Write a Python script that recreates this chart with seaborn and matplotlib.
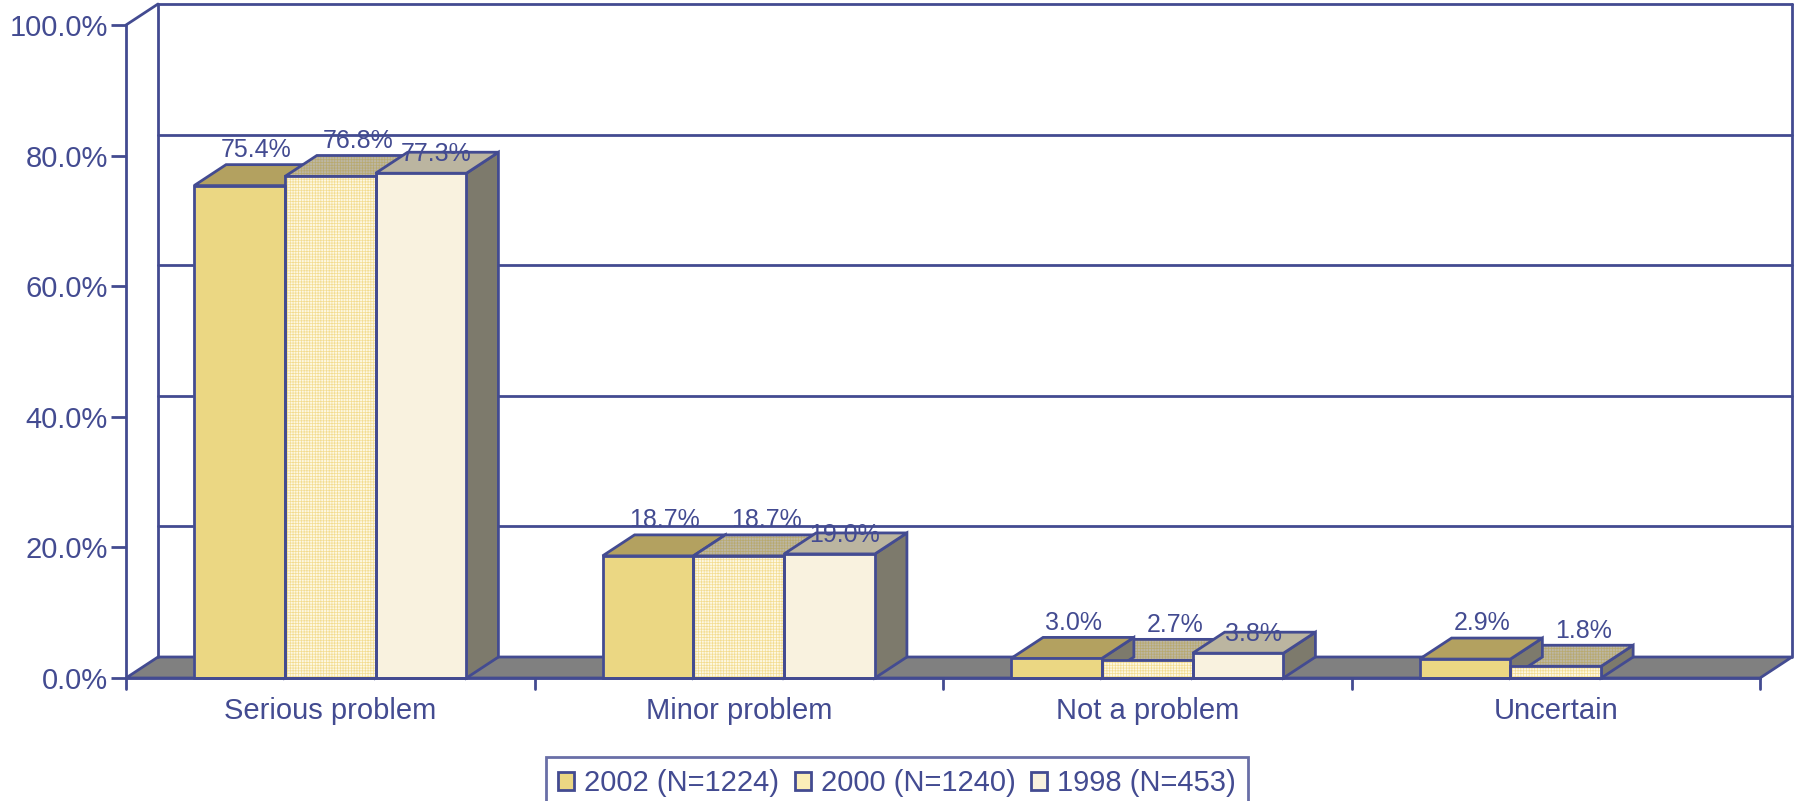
import matplotlib
matplotlib.use('Agg')
import matplotlib.pyplot as plt
from matplotlib.patches import Polygon, Rectangle, Patch
import pandas as pd
import seaborn as sns

# values
categories = ['Serious problem', 'Minor problem', 'Not a problem', 'Uncertain']
years = ['2002 (N=1224)', '2000 (N=1240)', '1998 (N=453)']
vals_2002 = [75.4, 18.7, 3.0, 2.9]
vals_2000 = [76.8, 18.7, 2.7, 1.8]
vals_1998 = [77.3, 19.0, 3.8, None]
y_ticks = [0, 20, 40, 60, 80, 100]

NAVY = '#434b91'
FLOOR = '#808080'
SIDE = '#7d7a6c'
LW = 2
front = ['#ebd783', '#fdf8e3', '#f9f2df']
top = ['#b3a160', '#bdb7a4', '#bbb5a0']
DX = 32 / 408.5   # depth offset, in category units
DY = 21 / 653 * 100  # depth offset, in percent
# where each series puts its value label, relative to the bar centre
label_dx = [17 / 408.5, 28 / 408.5, 15 / 408.5]
label_dy = [DY + 0.4, DY + 0.4, DY - 2.1]

sns.set_style('white')
plt.rcParams['font.family'] = ['Liberation Sans', 'DejaVu Sans']
plt.rcParams['hatch.linewidth'] = 0.5

df = pd.DataFrame({
    'category': categories * 3,
    'year': [y for y in years for _ in categories],
    'value': vals_2002 + vals_2000 + vals_1998,
})

fig = plt.figure(figsize=(17.97, 8.01), dpi=100)
ax = fig.add_axes([126 / 1797, (801 - 678) / 801, 1634 / 1797, 653 / 801])

sns.barplot(data=df, x='category', y='value', hue='year', palette=front,
            width=2 / 3, gap=0, saturation=1, legend=False, ax=ax, zorder=5)
ax.set_xlim(-0.5, 3.5)
ax.set_ylim(0, 100)

# back wall and floor
ax.add_patch(Polygon([(-0.5, 0), (-0.5 + DX, DY), (3.5 + DX, DY), (3.5, 0)],
                     fc=FLOOR, ec=NAVY, lw=LW, clip_on=False, zorder=1))
for t in y_ticks[1:]:
    ax.plot([-0.5 + DX, 3.5 + DX], [t + DY, t + DY], color=NAVY, lw=LW,
            clip_on=False, zorder=1)
for xb in (-0.5, 3.5):
    ax.plot([xb + DX, xb + DX], [DY, 100 + DY], color=NAVY, lw=LW, clip_on=False, zorder=1)
ax.plot([-0.5, -0.5 + DX], [100, 100 + DY], color=NAVY, lw=LW, clip_on=False, zorder=1)

# 3D faces of every bar, taken from the bars seaborn drew
n = len(categories)
bars = [b for b in ax.patches if isinstance(b, Rectangle)][:n * 3]
all_vals = [vals_2002, vals_2000, vals_1998]

for i in range(n):
    present = [s for s in range(3) if all_vals[s][i] is not None]
    # taller bars cover the top of their neighbours
    for rank, s in enumerate(sorted(present, key=lambda k: all_vals[k][i])):
        b = bars[s * n + i]
        x0, w, h = b.get_x(), b.get_width(), b.get_height()
        z = 3 + rank * 0.1
        side = [(x0 + w, 0), (x0 + w + DX, DY), (x0 + w + DX, h + DY), (x0 + w, h)]
        face = [(x0, h), (x0 + DX, h + DY), (x0 + w + DX, h + DY), (x0 + w, h)]
        ax.add_patch(Polygon(side, fc=SIDE, ec=NAVY, lw=LW, clip_on=False, zorder=z))
        if s == 1:
            ax.add_patch(Polygon(face, fc=top[s], ec='#b8a96f', lw=0, hatch='++++++',
                                 clip_on=False, zorder=z))
            ax.add_patch(Polygon(face, fc='none', ec=NAVY, lw=LW, clip_on=False, zorder=z))
        else:
            ax.add_patch(Polygon(face, fc=top[s], ec=NAVY, lw=LW, clip_on=False, zorder=z))

for s in range(3):
    for i in range(n):
        v = all_vals[s][i]
        if v is None:
            continue
        b = bars[s * n + i]
        x0, w, h = b.get_x(), b.get_width(), b.get_height()
        if s == 1:
            b.set_hatch('++++++')
            b.set_edgecolor('#f3dc90')
            b.set_linewidth(0)
        b.set_zorder(6)
        ax.add_patch(Rectangle((x0, 0), w, h, fc='none', ec=NAVY, lw=LW, clip_on=False, zorder=7))
        ax.text(x0 + w / 2 + label_dx[s], h + label_dy[s], f'{v:.1f}%', ha='center', va='bottom',
                fontsize=18, color=NAVY, zorder=8, clip_on=False)

# axes, ticks, labels
ax.set_xlabel('')
ax.set_ylabel('')
for sp in ('top', 'right'):
    ax.spines[sp].set_visible(False)
for sp in ('left', 'bottom'):
    ax.spines[sp].set_color(NAVY)
    ax.spines[sp].set_linewidth(LW)
    ax.spines[sp].set_zorder(9)
ax.set_yticks(y_ticks)
ax.set_yticklabels([f'{t:.1f}%' for t in y_ticks])
ax.tick_params(axis='y', left=True, length=11, width=LW, color=NAVY, labelcolor=NAVY,
               labelsize=21, pad=2)
ax.set_xticks(range(n))
ax.set_xticklabels(categories)
ax.tick_params(axis='x', bottom=False, labelcolor=NAVY, labelsize=21, pad=10.5)
for xt in [i - 0.5 for i in range(n + 1)]:
    ax.plot([xt, xt], [0, -11 / 6.53], color=NAVY, lw=LW, clip_on=False, zorder=9)

# legend
handles = [Patch(fc=front[0], ec=NAVY, lw=LW),
           Patch(fc='#fbeeb8', ec=NAVY, lw=LW),
           Patch(fc=front[2], ec=NAVY, lw=LW)]
leg = fig.legend(handles, years, loc='upper left', bbox_to_anchor=(546 / 1797, 1 - 757 / 801),
                 ncol=3, frameon=True, fontsize=21, labelcolor=NAVY, handlelength=0.55,
                 handleheight=0.55, handletextpad=0.35, columnspacing=0.52, borderpad=0.42,
                 borderaxespad=0, fancybox=False, edgecolor=NAVY)
leg.get_frame().set_linewidth(LW)

plt.savefig('out.png', dpi=100)
